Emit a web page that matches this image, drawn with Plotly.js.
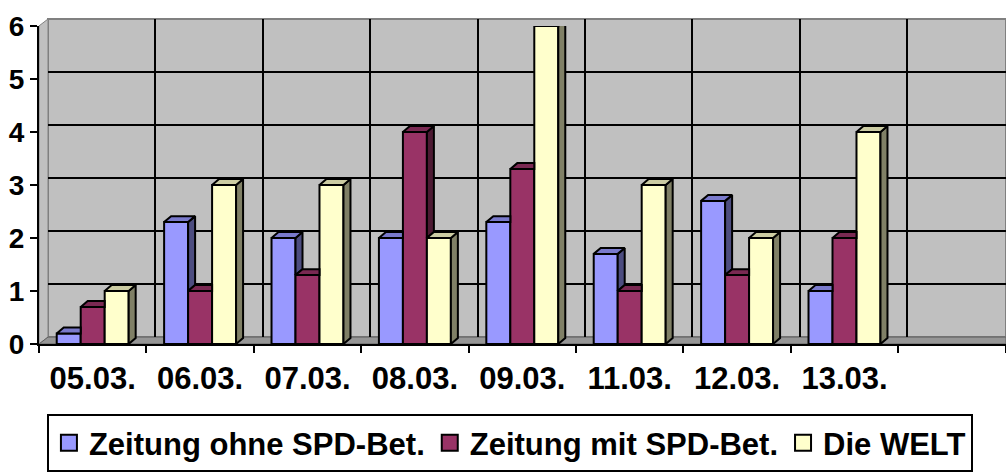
<!DOCTYPE html>
<html>
<head>
<meta charset="utf-8">
<script src="https://cdn.plot.ly/plotly-3.0.1.min.js"></script>
<style>html,body{margin:0;padding:0;background:#fff;}#chart{width:1006px;height:472px;}</style>
</head>
<body>
<div id="chart"></div>
<script>
// ---- data ----
const categories = ['05.03.', '06.03.', '07.03.', '08.03.', '09.03.', '11.03.', '12.03.', '13.03.', ''];
const ohneSPD = [0.2, 2.3, 2, 2, 2.3, 1.7, 2.7, 1];
const mitSPD = [0.7, 1, 1.3, 4, 3.3, 1, 1.3, 2];
const dieWelt = [1, 3, 3, 2, 6, 3, 2, 4];
const seriesNames = ['Zeitung ohne SPD-Bet.', 'Zeitung mit SPD-Bet.', 'Die WELT'];
const yTicks = [0, 1, 2, 3, 4, 5, 6];

// ---- style ----
const frontColors = ['#9999FF', '#993366', '#FFFFCC'];
const topColors = ['#7a7acc', '#7a2952', '#cccca3'];
const sideColors = ['#4d4d80', '#4d1a33', '#808066'];
const W = 1006, H = 472;
const M = {l: 39, r: 0, t: 19, b: 125};
const plotW = W - M.l - M.r, plotH = H - M.t - M.b;
const catPx = 107.4;           // pixel width of one category
const depthX = 9, depthY = 7;  // wall depth offset in px
const barDX = 7, barDY = 6;    // bar depth in px
const frontTopPx = 7;          // front plane top offset
const yMax = 6;
const pxPerY = (plotH - frontTopPx) / yMax;
const dx = barDX / catPx, dy = barDY / pxPerY;
const groupW = 0.67, bw = groupW / 3;
const font = {family: 'Liberation Sans, Arial, sans-serif', color: '#000', weight: 'bold'};

const series = [ohneSPD, mitSPD, dieWelt];
const idx = ohneSPD.map((_, i) => i);
const traces = [];

// invisible trace so the back-wall subplot (x/y) is created
traces.push({type: 'scatter', mode: 'markers', x: [null], y: [null], xaxis: 'x', yaxis: 'y',
  showlegend: false, hoverinfo: 'skip'});

// front faces
series.forEach((vals, s) => {
  traces.push({
    type: 'bar', x: idx, y: vals, xaxis: 'x2', yaxis: 'y2',
    width: bw, offset: -groupW / 2 + s * bw,
    marker: {color: frontColors[s], line: {color: '#000', width: 2}},
    showlegend: false, hoverinfo: 'skip'
  });
});

// sides and tops
series.forEach((vals, s) => {
  const sx = [], sy = [], tx = [], ty = [];
  vals.forEach((v, i) => {
    const xl = i - groupW / 2 + s * bw, xr = xl + bw;
    const next = s < series.length - 1 ? series[s + 1][i] : null;
    if (next !== null && next > v) {
      tx.push(xl, xl + dx, xr, xr, xl, null);
      ty.push(v, v + dy, v + dy, v, v, null);
    } else {
      tx.push(xl, xl + dx, xr + dx, xr, xl, null);
      ty.push(v, v + dy, v + dy, v, v, null);
      const b = next === null ? 0 : next;
      sx.push(xr, xr + dx, xr + dx, xr, xr, null);
      sy.push(b, b + dy, v + dy, v, b, null);
    }
  });
  traces.push({type: 'scatter', mode: 'lines', x: sx, y: sy, xaxis: 'x2', yaxis: 'y2',
    fill: 'toself', fillcolor: sideColors[s], line: {color: '#000', width: 2},
    showlegend: false, hoverinfo: 'skip'});
  traces.push({type: 'scatter', mode: 'lines', x: tx, y: ty, xaxis: 'x2', yaxis: 'y2',
    fill: 'toself', fillcolor: topColors[s], line: {color: '#000', width: 2},
    showlegend: false, hoverinfo: 'skip'});
});

// legend entries
seriesNames.forEach((n, s) => {
  traces.push({type: 'scatter', mode: 'markers', x: [null], y: [null], xaxis: 'x2', yaxis: 'y2',
    name: n, marker: {symbol: 'square', size: 16, color: frontColors[s], line: {color: '#000', width: 2}},
    hoverinfo: 'skip'});
});

const frontRangeMax = -0.5 + plotW / catPx;
const backRangeMax = -0.5 + (plotW - depthX) / catPx;
const bounds = categories.map((_, i) => i - 0.5).concat([categories.length - 0.5]);
const dxp = depthX / plotW, dyp = depthY / plotH;

const layout = {
  width: W, height: H,
  margin: M,
  paper_bgcolor: '#fff', plot_bgcolor: 'rgba(0,0,0,0)',
  barmode: 'overlay',
  showlegend: true,
  xaxis: {domain: [dxp, 1], range: [-0.5, backRangeMax], anchor: 'y',
    tickmode: 'array', tickvals: bounds.slice(1, -1), showticklabels: false, ticks: '',
    showgrid: true, gridcolor: '#000', gridwidth: 2, zeroline: false, showline: false, fixedrange: true},
  yaxis: {domain: [dyp, 1], range: [0, yMax], anchor: 'x',
    tickmode: 'array', tickvals: yTicks.slice(1, -1), showticklabels: false, ticks: '',
    showgrid: true, gridcolor: '#000', gridwidth: 2, zeroline: false, showline: false, fixedrange: true},
  xaxis2: {domain: [0, 1], range: [-0.5, frontRangeMax], anchor: 'y2',
    tickmode: 'array', tickvals: categories.map((_, i) => i), ticktext: categories,
    ticks: '', ticklabelstandoff: 6,
    minor: {tickmode: 'array', tickvals: bounds, ticks: 'outside', ticklen: 7, tickwidth: 2, tickcolor: '#000', showgrid: false},
    tickfont: Object.assign({size: 31}, font),
    showgrid: false, zeroline: false, showline: true, linecolor: '#000', linewidth: 2, fixedrange: true},
  yaxis2: {domain: [0, 1 - frontTopPx / plotH], range: [0, yMax], anchor: 'x2',
    tickmode: 'array', tickvals: yTicks, ticktext: yTicks.map(String),
    ticks: 'outside', ticklen: 7, tickwidth: 2, tickcolor: '#000',
    tickfont: Object.assign({size: 28}, font),
    showgrid: false, zeroline: false, showline: true, linecolor: '#000', linewidth: 2, fixedrange: true},
  legend: {orientation: 'h', x: 0.487, xanchor: 'center', y: 0, yanchor: 'top',
    font: Object.assign({size: 31}, font), bordercolor: '#000', borderwidth: 2, bgcolor: '#fff',
    itemclick: false, itemdoubleclick: false},
  shapes: [
    {type: 'rect', xref: 'x domain', yref: 'y domain', x0: 0, x1: 1, y0: 0, y1: 1,
      fillcolor: '#c0c0c0', line: {color: '#808080', width: 2}, layer: 'below'},
    {type: 'path', xref: 'paper', yref: 'paper',
      path: `M 0 0 L ${dxp} ${dyp} L ${dxp} 1 L 0 ${1 - frontTopPx / plotH} Z`,
      fillcolor: '#c0c0c0', line: {color: '#808080', width: 1}, layer: 'below'},
    {type: 'path', xref: 'paper', yref: 'paper',
      path: `M 0 0 L ${dxp} ${dyp} L 1 ${dyp} L 1 0 Z`,
      fillcolor: '#969696', line: {color: '#606060', width: 1}, layer: 'below'}
  ]
};
// legend top placed at pixel y = 418 (must fit inside the page)
layout.legend.y = ((H - M.b) - 418) / plotH;

Plotly.newPlot('chart', traces, layout, {displayModeBar: false, staticPlot: true});
</script>
</body>
</html>
